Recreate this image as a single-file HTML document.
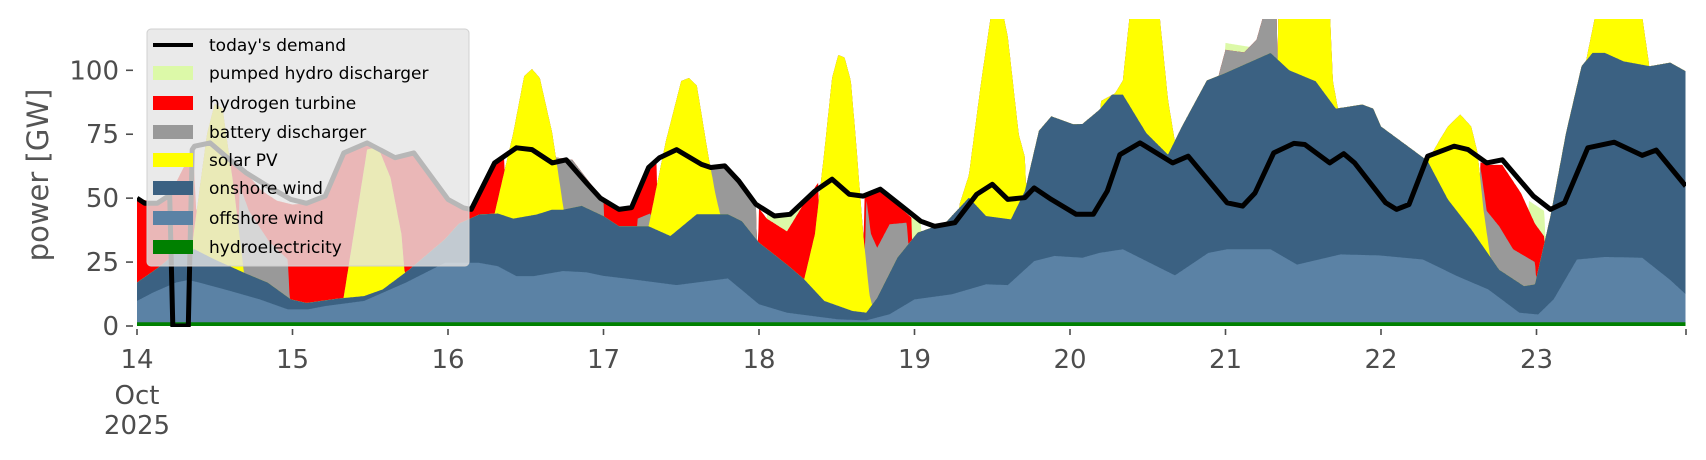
<!DOCTYPE html>
<html><head><meta charset="utf-8">
<style>
html,body{margin:0;padding:0;background:#fff;}
svg{display:block;}
text{font-family:"DejaVu Sans","Liberation Sans",sans-serif;}
</style></head>
<body>
<svg id="s" width="1706" height="460" viewBox="0 0 1706 460" xmlns="http://www.w3.org/2000/svg">
<defs><clipPath id="c"><rect x="137" y="19" width="1549" height="308"/></clipPath></defs>
<g id="areas" clip-path="url(#c)"></g>
<g id="dem" clip-path="url(#c)"></g>
<g id="axes" fill="#4d4d4d" font-size="26"></g>
<text x="0" y="0" transform="translate(48,175) rotate(-90)" text-anchor="middle" font-size="29" fill="#555">power [GW]</text>
<g id="leg">
<rect x="147" y="29" width="322" height="237" rx="4" fill="rgba(229,229,229,0.8)" stroke="#d0d0d0" stroke-width="1"/>
<line x1="153" y1="45" x2="193" y2="45" stroke="#000" stroke-width="4"/>
<rect x="153" y="66" width="40" height="14" fill="#dcf9a8"/>
<rect x="153" y="96" width="40" height="14" fill="#ff0000"/>
<rect x="153" y="125" width="40" height="14" fill="#999999"/>
<rect x="153" y="153" width="40" height="14" fill="#ffff00"/>
<rect x="153" y="181" width="40" height="14" fill="#3b6182"/>
<rect x="153" y="211" width="40" height="14" fill="#5b82a5"/>
<rect x="153" y="240" width="40" height="14" fill="#008000"/>
<g font-size="17" fill="#000">
<text x="209" y="51">today's demand</text>
<text x="209" y="79">pumped hydro discharger</text>
<text x="209" y="109">hydrogen turbine</text>
<text x="209" y="138">battery discharger</text>
<text x="209" y="166">solar PV</text>
<text x="209" y="194">onshore wind</text>
<text x="209" y="224">offshore wind</text>
<text x="209" y="253">hydroelectricity</text>
</g>
</g>
</svg>
<script>
(function(){
var X=function(t){return 137+155.5*t;}, Y=function(g){return 326-2.557*g;};
function ip(L,t){if(t<=L[0][0])return L[0][1];for(var i=1;i<L.length;i++){if(t<=L[i][0]){var a=L[i-1],b=L[i];return a[1]+(b[1]-a[1])*(t-a[0])/(b[0]-a[0]);}}return L[L.length-1][1];}
var OFF=[[0,9.8],[0.1,13],[0.25,17],[0.33,18],[0.4,17],[0.6,13.7],[0.79,10.4],[0.97,6.5],[1.1,6.5],[1.21,7.8],[1.46,9.8],[1.73,17],[1.98,24.7],[2.2,24.7],[2.32,23.4],[2.44,19.5],[2.55,19.5],[2.74,21.5],[2.89,21],[3.0,19.6],[3.18,18.3],[3.47,16],[3.8,18.6],[4.0,8.5],[4.18,5.2],[4.51,2.6],[4.69,2.2],[4.84,4.6],[5.0,10.4],[5.24,12.4],[5.46,16.3],[5.6,16],[5.77,25.4],[5.9,27.4],[6.08,26.7],[6.19,28.6],[6.34,30],[6.675,19.8],[6.89,28.6],[7.01,30],[7.29,30],[7.46,24],[7.74,28],[7.99,27.6],[8.27,26],[8.49,19.5],[8.69,14.3],[8.89,5.2],[9.01,4.5],[9.11,10.4],[9.26,26],[9.44,27],[9.68,26.7],[9.86,18],[9.96,12.4]];
var ON=[[0,17],[0.15,23.4],[0.25,28.6],[0.37,30],[0.5,26],[0.69,20.8],[0.84,17],[0.99,10.4],[1.09,9],[1.29,10.7],[1.46,11.7],[1.58,14.3],[1.75,22],[1.98,33.9],[2.07,40],[2.2,43.6],[2.32,44],[2.42,42],[2.57,43.6],[2.67,45.5],[2.74,45.5],[2.86,47],[3.0,43],[3.1,39],[3.29,39],[3.43,35.2],[3.6,43.7],[3.8,43.7],[3.89,41],[4.0,32.6],[4.18,24],[4.29,18.3],[4.42,9.8],[4.6,5.9],[4.69,5.2],[4.76,11],[4.89,26.7],[5.02,36.5],[5.2,40.4],[5.35,50.2],[5.46,43],[5.62,41.7],[5.71,52.8],[5.8,76.3],[5.88,82],[6.02,78.9],[6.08,79],[6.19,84.6],[6.27,90.5],[6.34,90.5],[6.49,75.5],[6.63,67],[6.72,78],[6.88,96],[6.99,98.7],[7.29,106.8],[7.41,100],[7.58,95.7],[7.71,85],[7.88,86.6],[7.95,85],[8.0,78],[8.23,67.7],[8.3,64.5],[8.43,49.5],[8.58,37.8],[8.76,22],[8.92,15.6],[8.99,16.3],[9.09,43],[9.19,75.5],[9.29,101.6],[9.36,106.8],[9.44,106.8],[9.56,103.5],[9.73,101.6],[9.86,103],[9.96,99.6]];
var SOL=[[0,0],[0.3,0],[0.36,34],[0.45,75],[0.5,87],[0.55,85],[0.62,55],[0.68,25],[0.72,0],
[1.3,0],[1.36,23],[1.48,69],[1.55,70],[1.63,58],[1.7,36],[1.75,0],
[2.28,0],[2.3,44],[2.42,75.5],[2.49,97.7],[2.54,100.5],[2.59,97],[2.67,75.5],[2.74,47],[2.76,0],
[3.27,0],[3.29,39],[3.4,72],[3.5,95.8],[3.55,97],[3.6,94],[3.67,68],[3.72,51.5],[3.75,43.7],[3.77,0],
[4.28,0],[4.29,18],[4.36,36],[4.42,68],[4.47,97],[4.51,106],[4.55,105],[4.59,96],[4.62,75],[4.67,36],[4.71,12.4],[4.76,0],
[5.27,0],[5.29,47.6],[5.35,59],[5.43,96],[5.5,125],[5.56,125],[5.6,113],[5.67,75],[5.71,66],[5.75,0],
[6.17,0],[6.2,88],[6.29,91],[6.34,96],[6.39,125],[6.57,125],[6.63,88.5],[6.68,70],[6.72,0],
[7.33,0],[7.34,125],[7.67,125],[7.69,96],[7.72,86],[7.74,0],
[8.28,0],[8.3,64.5],[8.38,73],[8.43,78],[8.51,82.7],[8.58,78],[8.62,68],[8.66,45],[8.7,28],[8.76,0],
[9.28,0],[9.31,101],[9.39,125],[9.67,125],[9.72,104],[9.76,0],[10,0]];
var BAT=[[0,0],[0.64,0],[0.66,55],[0.72,45],[0.85,33],[0.97,26],[0.99,0],
[2.66,0],[2.68,66],[2.8,65],[2.9,57],[3.0,49],[3.02,0],
[3.2,0],[3.22,42],[3.3,44],[3.32,0],
[3.66,0],[3.69,62],[3.78,62.6],[3.87,56.7],[3.98,47.6],[4.0,0],
[4.67,0],[4.69,50],[4.72,36],[4.76,30.6],[4.84,39.8],[4.95,40.4],[5.0,0],
[6.94,0],[6.96,99],[7.0,108],[7.12,107],[7.2,112],[7.26,125],[7.33,125],[7.35,0],
[8.63,0],[8.64,62],[8.68,45],[8.76,39],[8.85,30],[8.99,25],[9.02,0],[10,0]];
var H2=[[0,50],[0.13,48],[0.2,50],[0.3,62],[0.36,69],[0.42,0],
[0.58,0],[0.6,66],[0.7,60],[0.8,53],[0.9,49],[1.0,47.5],[1.1,48],[1.2,51],[1.3,64],[1.35,68],[1.45,71],[1.5,71],[1.55,69],[1.66,66],[1.78,67.7],[1.9,57],[2.0,49.5],[2.1,46.2],[2.15,45.6],[2.3,63.8],[2.36,66],[2.4,0],
[2.98,0],[3.0,50],[3.1,45.6],[3.18,46.3],[3.29,62],[3.34,65],[3.36,0],
[3.98,0],[4.0,46],[4.05,42],[4.18,37],[4.29,48],[4.38,56],[4.4,0],
[4.66,0],[4.68,52],[4.76,53.5],[4.84,50],[4.98,42.4],[5.0,0],
[8.63,0],[8.64,64],[8.7,63],[8.78,63],[8.9,52],[8.99,40],[9.05,35],[9.07,0],[10,0]];
var PH=[[0,0],[4.03,0],[4.05,43.7],[4.18,43],[4.29,49],[4.38,54.8],[4.4,0],
[4.96,0],[4.98,42.4],[5.04,41],[5.06,0],
[6.98,0],[7.0,110.7],[7.17,109],[7.2,112],[7.22,0],
[8.93,0],[8.95,49],[9.05,45],[9.08,0],[10,0]];
var DEM=[[0,50],[0.05,48],[0.13,48],[0.18,50],[0.21,51],[0.23,0],[0.33,0],[0.355,69],[0.37,70.3],[0.47,71.6],[0.57,66.4],[0.7,60],[0.84,54.7],[0.99,49.5],[1.09,48],[1.21,50.8],[1.33,67.7],[1.48,71.6],[1.66,65.8],[1.78,67.7],[2.0,49.5],[2.1,46.2],[2.15,45.6],[2.3,63.8],[2.44,69.7],[2.54,69],[2.67,63.8],[2.76,65],[2.89,56],[2.98,50],[3.1,45.6],[3.18,46.3],[3.29,62],[3.36,65.8],[3.47,69],[3.63,63.2],[3.69,62],[3.78,62.6],[3.87,56.7],[3.98,47.6],[4.1,43],[4.2,43.7],[4.36,52.8],[4.47,57.4],[4.58,51.5],[4.67,50.8],[4.78,53.5],[4.93,46.3],[5.04,41],[5.13,39],[5.26,40.4],[5.4,51.5],[5.5,55.4],[5.6,49.5],[5.71,50.2],[5.77,54],[5.88,49.5],[6.04,43.7],[6.15,43.7],[6.24,52.8],[6.32,67],[6.45,71.6],[6.66,63.8],[6.76,66.4],[7.01,48.2],[7.11,46.9],[7.19,52],[7.31,67.7],[7.44,71.4],[7.51,71],[7.67,63.8],[7.76,67.4],[7.83,63.8],[8.03,48.2],[8.1,45.6],[8.18,47.5],[8.3,66.4],[8.47,70.3],[8.56,69],[8.68,63.8],[8.78,65],[8.98,50.8],[9.09,45.6],[9.18,48.2],[9.33,69.7],[9.5,71.9],[9.68,66.7],[9.77,68.8],[9.96,54.7]];
var T1=9.958, st=0.004, ts=[];for(var t=0;t<T1;t+=st)ts.push(t);ts.push(T1);
var layers={hy:[],off:[],on:[],sol:[],bat:[],h2:[],ph:[]};
ts.forEach(function(t){
 var hy=1.5, off=Math.max(hy,ip(OFF,t)), on=Math.max(off,ip(ON,t)), so=Math.max(on,ip(SOL,t)),
 ba=Math.max(so,ip(BAT,t)), h2=Math.max(ba,ip(H2,t)), ph=Math.max(h2,ip(PH,t));
 layers.hy.push(hy);layers.off.push(off);layers.on.push(on);layers.sol.push(so);layers.bat.push(ba);layers.h2.push(h2);layers.ph.push(ph);
});
var NS="http://www.w3.org/2000/svg";
function mk(parent,tag,attrs,txt){var e=document.createElementNS(NS,tag);for(var k in attrs)e.setAttribute(k,attrs[k]);if(txt!==undefined)e.textContent=txt;parent.appendChild(e);return e;}
var areas=document.getElementById("areas");
function poly(arr,col){
 var d="M"+X(0).toFixed(1)+",326";
 for(var i=0;i<ts.length;i++)d+="L"+X(ts[i]).toFixed(1)+","+Y(arr[i]).toFixed(1);
 d+="L"+X(T1).toFixed(1)+",326Z";
 mk(areas,"path",{d:d,fill:col});
}
poly(layers.ph,"#dcf9a8");poly(layers.h2,"#ff0000");poly(layers.bat,"#999999");
poly(layers.sol,"#ffff00");poly(layers.on,"#3b6182");poly(layers.off,"#5b82a5");poly(layers.hy,"#008000");
var d="";DEM.forEach(function(p,i){d+=(i?"L":"M")+X(p[0]).toFixed(1)+","+Y(p[1]).toFixed(1);});
mk(document.getElementById("dem"),"path",{d:d,fill:"none",stroke:"#000","stroke-width":"5","stroke-linejoin":"round"});
var ax=document.getElementById("axes");
[0,25,50,75,100].forEach(function(v){var y=Y(v);mk(ax,"rect",{x:126,y:y-0.8,width:7,height:1.6});mk(ax,"text",{x:119,y:y+9,"text-anchor":"end"},String(v));});
for(var k=0;k<=10;k++){var x=X(k);if(k==10)x=1686;mk(ax,"rect",{x:x-0.8,y:329,width:1.6,height:6});if(k<10)mk(ax,"text",{x:X(k),y:368,"text-anchor":"middle"},String(14+k));}
mk(ax,"text",{x:137,y:404,"text-anchor":"middle"},"Oct");
mk(ax,"text",{x:137,y:434,"text-anchor":"middle"},"2025");
})();
</script>
</body></html>
